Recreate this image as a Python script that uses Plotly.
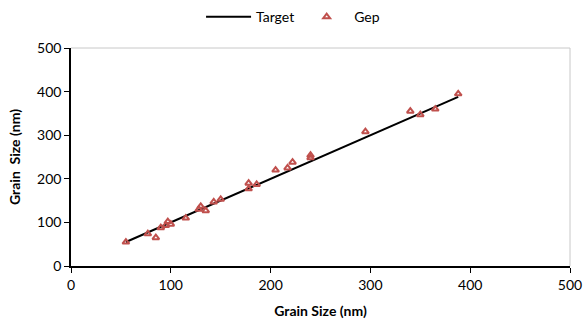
import plotly.graph_objects as go

target_x = [55, 388]
target_y = [55, 388]

gep_x = [55, 77, 85, 90, 95, 97, 100, 115, 128, 130, 135, 143, 150, 178, 178, 186, 205, 217, 222, 240, 240, 295, 340, 350, 365, 388]
gep_y = [55, 74, 65, 88, 93, 102, 96, 110, 130, 137, 127, 147, 153, 190, 177, 187, 220, 225, 238, 248, 254, 308, 355, 347, 360, 395]

x_ticks = [0, 100, 200, 300, 400, 500]
y_ticks = [0, 100, 200, 300, 400, 500]

FONT = "Lato"

fig = go.Figure()
fig.add_trace(go.Scatter(x=target_x, y=target_y, mode="lines", name="Target",
                         line=dict(color="black", width=2)))
fig.add_trace(go.Scatter(x=gep_x, y=gep_y, mode="markers", name="Gep",
                         marker=dict(symbol="triangle-up-open", size=6, color="#C0504D",
                                     line=dict(color="#C0504D", width=2))))

fig.update_layout(
    width=583, height=325,
    margin=dict(l=71, r=13, t=48, b=59, autoexpand=False),
    paper_bgcolor="white", plot_bgcolor="white",
    font=dict(family=FONT, size=14, color="black"),
    legend=dict(orientation="h", x=0.445, xanchor="center", y=1.142, yanchor="middle",
                font=dict(size=14), itemwidth=45),
    showlegend=True,
)

fig.update_xaxes(range=[0, 500], tickvals=x_ticks, showgrid=False, zeroline=False,
                 showline=True, linecolor="black", linewidth=1.5, automargin=False,
                 ticks="outside", ticklen=5, tickcolor="black", tickwidth=1,
                 title=dict(text="<b>Grain Size (nm)</b>", font=dict(size=14), standoff=15),
                 tickfont=dict(size=14))
fig.update_yaxes(range=[0, 500], tickvals=y_ticks, showgrid=False, zeroline=False,
                 showline=True, linecolor="black", linewidth=1.5, automargin=False,
                 ticks="outside", ticklen=5, tickcolor="black", tickwidth=1,
                 title=dict(text="<b>Grain\u00a0 Size (nm)</b>", font=dict(size=14), standoff=13),
                 tickfont=dict(size=14))

fig.add_shape(type="line", xref="paper", yref="paper", x0=0, x1=1, y0=1, y1=1,
              line=dict(color="#C8C8C8", width=1), layer="below")
fig.add_shape(type="line", xref="paper", yref="paper", x0=1, x1=1, y0=0, y1=1,
              line=dict(color="#C8C8C8", width=1), layer="below")

fig.write_html("out.html")
